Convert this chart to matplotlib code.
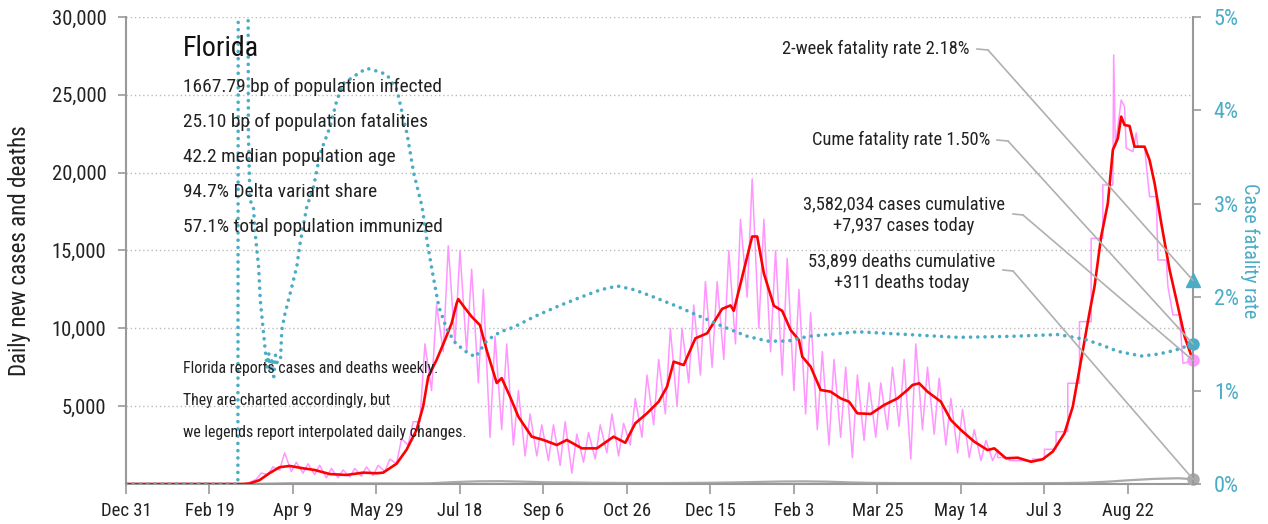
import matplotlib
matplotlib.use('Agg')
import matplotlib.pyplot as plt
from matplotlib import font_manager as fm
from matplotlib.patches import ConnectionPatch
from matplotlib.lines import Line2D
import numpy as np

# ---------------- data (day 0 = Dec 31, 2019) ----------------
x_tick_days = [0, 50, 100, 150, 200, 250, 300, 350, 400, 450, 500, 550, 600]
x_tick_labels = ['Dec 31', 'Feb 19', 'Apr 9', 'May 29', 'Jul 18', 'Sep 6', 'Oct 26',
                 'Dec 15', 'Feb 3', 'Mar 25', 'May 14', 'Jul 3', 'Aug 22']
last_day = 639

# 7-day average of new cases (red)
red_days = [0, 70, 74, 80, 86, 92, 98, 106, 113, 122, 132, 142, 150, 154, 162, 168, 174, 178,
            181, 186, 191, 195, 198, 199, 203, 207, 212, 216, 222, 225, 230, 235, 243, 250,
            258, 264, 273, 282, 292, 299, 305, 312, 319, 324, 328, 334, 341, 348, 357, 362,
            364, 375, 378, 382, 388, 393, 398, 403, 405, 410, 416, 422, 428, 433, 438, 446,
            454, 462, 468, 471, 475, 480, 488, 494, 500, 508, 516, 520, 527, 534, 542, 549,
            555, 562, 567, 572, 577, 580, 584, 588, 591, 594, 596, 598, 601, 604, 610, 613,
            616, 620, 625, 630, 634, 639]
red_vals = [0, 0, 30, 250, 700, 1080, 1160, 1010, 900, 640, 580, 730, 690, 730, 1300, 2200,
            3470, 5000, 6890, 7970, 9250, 10320, 11610, 11880, 11300, 10750, 10200, 8600, 6490,
            6800, 5610, 4320, 3040, 2830, 2505, 2830, 2290, 2290, 3040, 2650, 3900, 4540, 5290,
            6250, 7860, 7640, 9360, 9680, 11250, 11470, 11130, 15900, 15900, 13530, 11450,
            11120, 9890, 9250, 8180, 7540, 6040, 5930, 5500, 5290, 4540, 4500, 5075, 5500,
            6040, 6360, 6470, 5930, 5290, 4110, 3470, 2720, 2180, 2290, 1650, 1690, 1430,
            1590, 2080, 3250, 4970, 7970, 11000, 12670, 15900, 18030, 21460, 22210, 23600,
            23060, 23000, 21670, 21670, 20810, 19320, 16750, 13750, 11390, 9460, 7937]

# raw daily cases (pink): weekly highs / lows while reported daily (weeks from day 70)
pink_first_week = 70
pink_hi = [100, 700, 1100, 2000, 1400, 1300, 1200, 1000, 900, 1000, 1100, 1200, 1600, 2900,
           4000, 9000, 11500, 15300, 15000, 13800, 12500, 9500, 9000, 6000, 4500, 3800, 3800,
           4000, 3200, 3300, 3800, 4500, 3900, 5500, 7000, 8000, 10000, 10000, 11500, 13000,
           13000, 15000, 17000, 19600, 17000, 15000, 14500, 12500, 11000, 8500, 8000, 7500,
           7000, 6500, 6500, 7500, 8000, 9000, 7500, 6800, 5500, 4800, 3500, 2800, 2200]
pink_lo = [0, 300, 600, 900, 800, 700, 600, 400, 400, 450, 500, 550, 800, 1300, 2500, 4000,
           6000, 8500, 9000, 8500, 6500, 3000, 3500, 2500, 1800, 1800, 1500, 1200, 700, 1400,
           1600, 2000, 1800, 2500, 3000, 3800, 4500, 5000, 6500, 7000, 7500, 8000, 9000,
           12000, 10000, 8500, 7000, 6000, 4500, 3500, 2500, 3000, 1700, 2800, 3000, 3500,
           3700, 1600, 3500, 3200, 2500, 2000, 1700, 1500, 1500]
# weekly-reported period (step shaped)
late_days = [522, 529, 529, 536, 536, 543, 543, 550, 550, 557, 557, 564, 564, 571, 571, 578,
             578, 585, 585, 591, 591.5, 592.5, 596, 598, 599, 603, 605, 606, 610, 611.5, 613,
             617, 618, 623, 624, 627, 631, 633, 639]
late_vals = [1700, 1700, 1500, 1500, 1500, 1500, 1600, 1600, 2230, 2230, 3360, 3360, 6470,
             6470, 10430, 10430, 15780, 15780, 19210, 19210, 27560, 21670, 24670, 24240,
             21580, 21350, 22550, 21670, 21670, 19980, 18460, 18460, 14390, 14390, 12670,
             10860, 10860, 7750, 7937]

# daily deaths (grey)
deaths_days = [0, 70, 84, 98, 112, 126, 140, 154, 168, 182, 196, 210, 224, 238, 252, 266, 280,
               294, 308, 322, 336, 350, 364, 378, 392, 406, 420, 434, 448, 462, 476, 490, 504,
               518, 532, 546, 560, 574, 588, 602, 616, 630, 639]
deaths_vals = [0, 2, 20, 50, 50, 45, 40, 40, 35, 45, 120, 170, 180, 150, 110, 100, 80, 70,
               60, 60, 70, 80, 100, 130, 160, 170, 150, 100, 70, 60, 60, 60, 50, 40, 40, 50,
               60, 80, 150, 250, 330, 370, 311]

# case fatality rate, % (blue dotted, right axis)
cfr_days = [0, 67, 67.5, 72.3, 73.3, 74.2, 76.3, 77.3, 79.4, 80.4, 82.4, 83.4, 84.5, 85.5,
            86.5, 87.5, 88.5, 89.5, 90.5, 92.5, 93.3, 95.3, 98.3, 102.3, 104.3, 108.3, 112.3,
            116.3, 122.3, 126.3, 130.3, 140.3, 144.3, 152.3, 156.3, 162.3, 166.3, 168.3,
            172.3, 177.3, 180.3, 183.3, 187.3, 192.3, 197.3, 203.3, 209.3, 216.3, 224.3,
            232.3, 244.3, 258.3, 272.3, 284.3, 294.3, 304.3, 316.3, 330.3, 344.3, 358.3,
            372.3, 384.3, 396.3, 408.3, 438.3, 468.3, 498.3, 528.3, 558.3, 574, 584, 594,
            608, 618, 628, 639]
cfr_vals = [0, 0, 12, 12, 3.76, 3.04, 2.97, 2.69, 2.33, 1.97, 1.61, 1.43, 1.25, 1.40, 1.20,
            1.35, 1.15, 1.38, 1.30, 1.32, 1.65, 1.83, 2.04, 2.33, 2.58, 2.97, 3.18, 3.54, 3.83,
            4.11, 4.29, 4.41, 4.45, 4.41, 4.38, 4.22, 3.90, 3.75, 3.33, 2.97, 2.60, 2.29, 1.90,
            1.65, 1.51, 1.42, 1.36, 1.54, 1.63, 1.68, 1.79, 1.90, 2.00, 2.08, 2.12, 2.08, 2.00,
            1.90, 1.79, 1.68, 1.58, 1.53, 1.53, 1.58, 1.63, 1.60, 1.57, 1.58, 1.60, 1.55, 1.49,
            1.42, 1.37, 1.39, 1.43, 1.50]

two_week_cfr = 2.18
cume_cfr = 1.50
cases_today = 7937
deaths_today = 311

title = 'Florida'
facts = ['1667.79 bp of population infected', '25.10 bp of population fatalities',
         '42.2 median population age', '94.7% Delta variant share',
         '57.1% total population immunized']
notes = ['Florida reports cases and deaths weekly.', 'They are charted accordingly, but',
         'we legends report interpolated daily changes.']

# ---------------- font: prefer a condensed sans ----------------
def choose_font():
    entries = fm.fontManager.ttflist
    names = {f.name for f in entries}
    for want in ['Liberation Sans Narrow', 'Roboto Condensed', 'Open Sans Condensed',
                 'Noto Sans Condensed', 'Arial Narrow']:
        if want in names:
            return want, 'normal'
    for f in entries:
        if f.name in ('DejaVu Sans', 'Noto Sans', 'Open Sans') and \
                str(f.stretch).lower() in ('condensed', 'semi-condensed'):
            return f.name, str(f.stretch).lower()
    for f in entries:
        low = f.name.lower()
        if ('condensed' in low or 'narrow' in low) and f.style == 'normal':
            return f.name, 'normal'
    for want in ['Roboto', 'Liberation Sans']:
        if want in names:
            return want, 'normal'
    return 'DejaVu Sans', 'normal'

FONT, STRETCH = choose_font()
plt.rcParams['font.family'] = [FONT, 'DejaVu Sans']
plt.rcParams['font.stretch'] = STRETCH

TXT = '#222222'
TEAL = '#4bacc6'
PINK = '#ff96ff'
SPINE = '#999999'
GRID = '#bbbbbb'
LEAD = '#b0b0b0'

W, H = 1268, 524
fig = plt.figure(figsize=(W / 100, H / 100), dpi=100)
renderer = fig.canvas.get_renderer()

def fit(text, target_px):
    t = fig.text(0, 0, text, fontsize=20)
    w = t.get_window_extent(renderer).width
    t.remove()
    return 20.0 * target_px / w

FS_TITLE = fit('Florida', 76)
FS_FACT = fit(facts[0], 258)
FS_NOTE = fit(notes[0], 256)
FS_ANN = fit('2-week fatality rate 2.18%', 187)
FS_YT = fit('30,000', 55)
FS_XT = fit('Dec 31', 51)
FS_RT = fit('5%', 25)
FS_YL = fit('Daily new cases and deaths', 250)
FS_RL = fit('Case fatality rate', 135)

L, R, T, B = 126, 1193, 17, 484
ax = fig.add_axes([L / W, 1 - B / H, (R - L) / W, (B - T) / H])
ax2 = ax.twinx()

def fx(x):
    return x / W

def fy(y):
    return 1 - y / H

# pink vertex list
pink_days = [0, pink_first_week]
pink_vals = [0, 0]
for k, (hi, lo) in enumerate(zip(pink_hi, pink_lo)):
    s = pink_first_week + 7 * k
    pink_days += [s + 1, s + 4]
    pink_vals += [lo, hi]
pink_days += late_days
pink_vals += late_vals

ax.plot(deaths_days, deaths_vals, color='#aaaaaa', lw=1.6, zorder=2)
ax.plot(pink_days, pink_vals, color=PINK, lw=1.1, zorder=3)
ax.plot(red_days, red_vals, color='#ff0000', lw=1.9, zorder=4)
ax2.plot(cfr_days, cfr_vals, color=TEAL, lw=2.6, linestyle=(0, (0.01, 2.0)),
         dash_capstyle='round', zorder=5)

# end markers
ax.plot([last_day], [cases_today], 'o', color=PINK, ms=8, clip_on=False, zorder=6)
ax.plot([last_day], [deaths_today], 'o', color='#aaaaaa', ms=8, clip_on=False, zorder=6)
ax2.plot([last_day], [cume_cfr], 'o', color=TEAL, ms=8, clip_on=False, zorder=6)
ax2.plot([last_day], [two_week_cfr], '^', color=TEAL, ms=10, clip_on=False, zorder=6)

# axes
ax.set_xlim(0, last_day)
ax.set_ylim(0, 30000)
ax2.set_ylim(0, 5)
ax.set_xticks(x_tick_days)
ax.set_xticklabels(x_tick_labels)
yt = [5000, 10000, 15000, 20000, 25000, 30000]
ax.set_yticks(yt)
ax.set_yticklabels([f'{v:,}' for v in yt])
ax.grid(axis='y', color=GRID, lw=1, linestyle=(0, (1, 2)))
ax.set_axisbelow(True)
ax2.set_yticks([0, 1, 2, 3, 4, 5])
ax2.set_yticklabels([f'{v}%' for v in range(6)])

for s in ['top', 'right']:
    ax.spines[s].set_visible(False)
for s in ['top', 'left', 'bottom']:
    ax2.spines[s].set_visible(False)
for sp in [ax.spines['left'], ax.spines['bottom'], ax2.spines['right']]:
    sp.set_color(SPINE)
    sp.set_linewidth(1.5)

ax.tick_params(axis='y', length=6, width=1.2, color=SPINE, labelsize=FS_YT, labelcolor=TXT, pad=8)
ax.tick_params(axis='x', length=7, width=1.2, color=SPINE, labelsize=FS_XT, labelcolor=TXT, pad=6)
ax2.tick_params(axis='y', length=6, width=1.2, color=SPINE, labelsize=FS_RT, labelcolor=TEAL, pad=9)

ax.set_ylabel('Daily new cases and deaths', fontsize=FS_YL, color=TXT, va='center')
ax.yaxis.set_label_coords((19 - L) / (R - L), 0.5)
ax2.set_ylabel('Case fatality rate', fontsize=FS_RL, color=TEAL, rotation=-90, va='center')
ax2.yaxis.set_label_coords((1250 - L) / (R - L), 0.5)

# text blocks
fig.text(fx(183), fy(48), title, fontsize=FS_TITLE, color='#111111', va='center', ha='left')
for i, t in enumerate(facts):
    fig.text(fx(183), fy(87 + 35 * i), t, fontsize=FS_FACT, color=TXT, va='center', ha='left')
for i, t in enumerate(notes):
    fig.text(fx(183), fy(368 + 32.5 * i), t, fontsize=FS_NOTE, color=TXT, va='center', ha='left')

# right-hand annotations with leader lines
def leader(x0, x1, y0, y1, target_ax, target_val):
    fig.add_artist(Line2D([fx(x0), fx(x1)], [fy(y0), fy(y1)], transform=fig.transFigure,
                          color=LEAD, lw=1.2, zorder=7))
    cp = ConnectionPatch(xyA=(fx(x1), fy(y1)), coordsA=fig.transFigure,
                         xyB=(last_day, target_val), coordsB=target_ax.transData,
                         color=LEAD, lw=1.2, zorder=7)
    cp.set_annotation_clip(False)
    fig.add_artist(cp)

fig.text(fx(970), fy(49), f'2-week fatality rate {two_week_cfr:.2f}%', fontsize=FS_ANN,
         color=TXT, ha='right', va='center')
leader(977, 988, 49, 50, ax2, two_week_cfr)

fig.text(fx(990), fy(140), f'Cume fatality rate {cume_cfr:.2f}%', fontsize=FS_ANN,
         color=TXT, ha='right', va='center')
leader(997, 1008, 140, 141, ax2, cume_cfr)

fig.text(fx(904), fy(215), f'3,582,034 cases cumulative\n+{cases_today:,} cases today',
         fontsize=FS_ANN, color=TXT, ha='center', va='center', linespacing=1.25)
leader(1013, 1023, 214, 215, ax, cases_today)

fig.text(fx(902), fy(272), f'53,899 deaths cumulative\n+{deaths_today:,} deaths today',
         fontsize=FS_ANN, color=TXT, ha='center', va='center', linespacing=1.25)
leader(1003, 1013, 270, 271, ax, deaths_today)

fig.savefig('out.png', dpi=100, facecolor='white')
